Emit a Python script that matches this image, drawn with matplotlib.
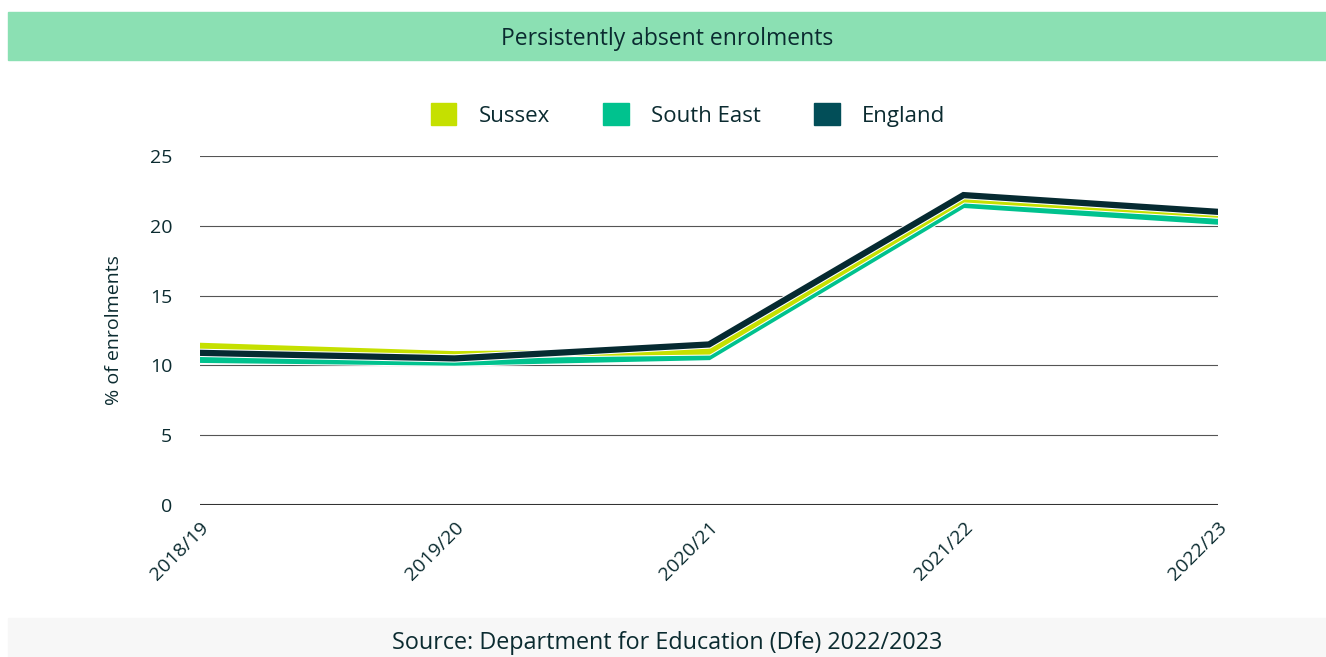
import numpy as np
import matplotlib.pyplot as plt
import matplotlib.patheffects as pe
from matplotlib.patches import Patch, Rectangle

plt.rcParams['font.family'] = ['Open Sans', 'DejaVu Sans']

# persistent absence, % of enrolments
years = ["2018/19", "2019/20", "2020/21", "2021/22", "2022/23"]
sussex = [11.4, 10.8, 11.0, 21.9, 20.8]
south_east = [10.4, 10.2, 10.6, 21.5, 20.3]
england = [10.9, 10.5, 11.5, 22.2, 21.0]

c_sussex = "#C5E000"
c_se = "#00C28E"
c_eng_line = "#062A31"
c_eng_key = "#024E58"
text_col = "#0B2B30"

fig = plt.figure(figsize=(13.26, 6.57), dpi=100)

# header and footer bands
fig.patches.append(Rectangle((8 / 1326, 1 - 60 / 657), 1, 48 / 657,
                             transform=fig.transFigure, color="#8BE0B3", zorder=0))
fig.patches.append(Rectangle((8 / 1326, 0), 1, 39 / 657,
                             transform=fig.transFigure, color="#F7F7F7", zorder=0))
fig.text(667 / 1326, 1 - 39 / 657, "Persistently absent enrolments", ha="center", va="center",
         fontsize=16.5, color=text_col)
fig.text(667 / 1326, 1 - 643 / 657, "Source: Department for Education (Dfe) 2022/2023",
         ha="center", va="center", fontsize=16.8, color=text_col)

ax = fig.add_axes([200 / 1326, 1 - 505 / 657, 1018 / 1326, 349 / 657])
x = np.arange(len(years))
outline = [pe.Stroke(linewidth=6, foreground="white"), pe.Normal()]
ax.plot(x, south_east, color=c_se, lw=4.5, path_effects=outline, zorder=3, solid_joinstyle="miter")
ax.plot(x, sussex, color=c_sussex, lw=4.5, path_effects=outline, zorder=4, solid_joinstyle="miter")
ax.plot(x, england, color=c_eng_line, lw=4.5, path_effects=outline, zorder=5, solid_joinstyle="miter")

ax.set_xlim(0, len(years) - 1)
ax.set_ylim(0, 25)
ax.set_yticks(np.arange(0, 26, 5))
ax.set_xticks(x)
ax.set_xticklabels(years, rotation=45, ha="right", rotation_mode="anchor")
ax.tick_params(length=0, labelsize=14, colors=text_col, pad=10)
ax.tick_params(axis="y", pad=20)
ax.grid(axis="y", color="#555555", lw=0.8)
ax.axhline(0, color="#333333", lw=1.5, zorder=2)
for s in ax.spines.values():
    s.set_visible(False)
ax.set_ylabel("% of enrolments", fontsize=14, color=text_col, labelpad=19)

handles = [Patch(color=c_sussex, label="Sussex"),
           Patch(color=c_se, label="South East"),
           Patch(color=c_eng_key, label="England")]
fig.legend(handles=handles, loc="center", bbox_to_anchor=(688 / 1326, 1 - 115 / 657), ncol=3,
           frameon=False, fontsize=16, handlelength=1.15, handleheight=1.15,
           handletextpad=1.0, columnspacing=2.4, labelcolor=text_col)

fig.savefig("out.png", dpi=100)
